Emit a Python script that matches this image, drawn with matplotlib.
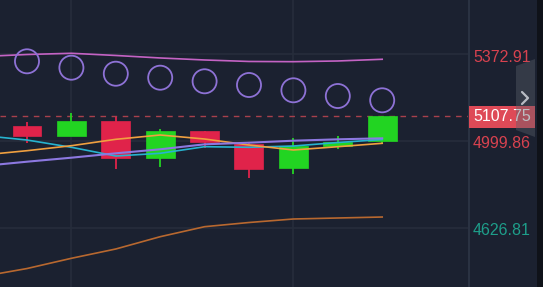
import matplotlib
matplotlib.use("Agg")
import matplotlib.pyplot as plt
from matplotlib.patches import Rectangle, Polygon

# ---- data ----
idx = list(range(9))
opens  = [5064.2, 5022.6, 5085.6, 4925.7, 5042.7, 4987.0, 4882.8, 4979.7, 5001.1]
closes = [5022.6, 5085.6, 4925.7, 5042.7, 4996.9, 4878.5, 4978.4, 4994.3, 5107.75]
highs  = [5080.0, 5118.6, 5101.5, 5050.0, 5042.7, 4990.0, 5011.4, 5021.3, 5107.75]
lows   = [4990.0, 5022.6, 4878.5, 4887.1, 4968.6, 4839.9, 4857.1, 4964.3, 4985.7]

circle_vals = [5341.6, 5314.2, 5288.4, 5271.3, 5255.9, 5240.0, 5217.3, 5192.8, 5174.4]

line_idx = list(range(-1, 9))
upper_band = [5362.2, 5370.8, 5376.0, 5366.6, 5355.9, 5347.3, 5340.9, 5340.0, 5343.0, 5350.3]
lower_band = [4419.3, 4453.0, 4496.9, 4536.8, 4589.5, 4632.4, 4650.4, 4665.4, 4669.7, 4673.9]
ma_cyan    = [5023.4, 5004.1, 4972.9, 4935.5, 4947.1, 4975.4, 4972.9, 4978.4, 4993.4, 5006.3]
ma_orange  = [4939.8, 4958.3, 4979.7, 5007.1, 5025.6, 5008.4, 4982.7, 4961.3, 4975.4, 4990.0]
ma_purple  = [4892.7, 4911.1, 4928.3, 4947.1, 4964.3, 4985.7, 4992.6, 5001.1, 5007.1, 5011.4]

tick_vals = [5372.91, 4999.86, 4626.81]
tick_labels = ["5372.91", "4999.86", "4626.81"]
tick_colors = ["#d8424f", "#d8424f", "#1e9e8a"]
last_price = 5107.75
last_label = "5107.75"

# ---- style ----
BG = "#1b2130"
GRID = "#262d3b"
RED = "#e0234a"
GREEN = "#22d422"
W, H = 543, 287
ymin, ymax = 4373.8, 5604.5
px = 44.4
x_left = -27 / px
x_right = (468 - 27) / px

fig = plt.figure(figsize=(W / 100, H / 100), dpi=100, facecolor=BG)
ax = fig.add_axes([0, 0, 468 / W, 1])
ax.set_facecolor(BG)
ax.set_xlim(x_left, x_right)
ax.set_ylim(ymin, ymax)
for s in ax.spines.values():
    s.set_visible(False)
ax.set_xticks([])
ax.set_yticks([])

for v in tick_vals:
    ax.axhline(v, color=GRID, lw=1.2, zorder=0)
for xv in [1, 6]:
    ax.axvline(xv, color=GRID, lw=1.2, zorder=0)

# lines
ax.plot(line_idx, upper_band, color="#c463c4", lw=1.2, zorder=2)
ax.plot(line_idx, lower_band, color="#b8682f", lw=1.2, zorder=2)

bw = 29 / px
for i, o, c, h, l in zip(idx, opens, closes, highs, lows):
    col = GREEN if c >= o else RED
    ax.vlines(i, l, h, color=col, lw=1.3, zorder=3)
    ax.add_patch(Rectangle((i - bw / 2, min(o, c)), bw, abs(c - o),
                           facecolor=col, edgecolor=col, lw=0.5, zorder=3))

ax.plot(line_idx, ma_cyan, color="#27b3cf", lw=1.2, zorder=4)
ax.plot(line_idx, ma_orange, color="#f0a040", lw=1.2, zorder=4)
ax.plot(line_idx, ma_purple, color="#8c78e0", lw=1.5, zorder=4)

ax.scatter(idx, circle_vals, s=300, facecolors="none", edgecolors="#8e72d6",
           linewidths=1.3, zorder=5)

ax.axhline(last_price, color="#a8404c", lw=1.0, ls=(0, (4, 4)), zorder=1)

# ---- right price panel ----
rax = fig.add_axes([468 / W, 0, 1 - 468 / W, 1])
rax.set_facecolor(BG)
rax.set_xlim(468, 543)
rax.set_ylim(ymin, ymax)
rax.set_xticks([])
rax.set_yticks([])
for s in rax.spines.values():
    s.set_visible(False)
rax.axvline(468.6, color="#2a3242", lw=1.5)
rax.add_patch(Rectangle((537, ymin), 6, ymax - ymin, facecolor="#0f1219",
                        edgecolor="none", zorder=1))

offs = [-3 * 4.288, -2 * 4.288, -3 * 4.288]
for v, t, c, d in zip(tick_vals, tick_labels, tick_colors, offs):
    rax.text(473, v + d, t, color=c, fontsize=11.5, family="Liberation Sans",
             va="center", ha="left", zorder=3)

# last price box
box_h = 22 * 4.288
rax.add_patch(Rectangle((469, last_price - box_h / 2 - 1 * 4.288), 66, box_h,
                        facecolor="#de4a57", edgecolor="none", zorder=2))
rax.text(473, last_price - 1 * 4.288, last_label, color="white", fontsize=11.5,
         family="Liberation Sans", va="center", ha="left", zorder=3)

# collapse tab
def yv(p):
    return ymax - p * (ymax - ymin) / H

tab = Polygon([(516, yv(66)), (535, yv(59)), (535, yv(137)), (516, yv(130))],
              closed=True, facecolor="#5a606b", alpha=0.4, edgecolor="none", zorder=4)
rax.add_patch(tab)
rax.plot([522, 528, 522], [yv(92), yv(98), yv(104)], color="#b8bcc4", lw=1.6,
         zorder=5, solid_capstyle="round")

fig.savefig("out.png", dpi=100, facecolor=BG)
